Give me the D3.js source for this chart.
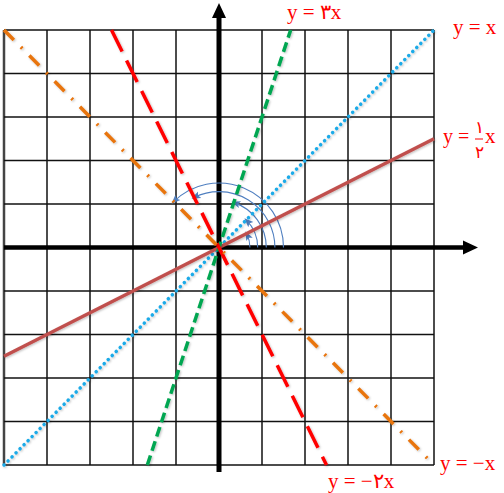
<!DOCTYPE html>
<html><head><meta charset="utf-8">
<script src="https://cdn.jsdelivr.net/npm/d3@7"></script>
<style>html,body{margin:0;padding:0;background:#fff;}svg{display:block;}</style>
</head><body>
<svg id="c" width="504" height="493"></svg>
<script>
// ---- data ----
const gridTicks = [-5,-4,-3,-2,-1,0,1,2,3,4,5];
const lineNames  = ["y = x", "y = ½x", "y = 3x", "y = -2x", "y = -x"];
const lineX0     = [-5, -5, -5/3, -2.5, -5];
const lineY0     = [-5, -2.5, -5, 5, 5];
const lineX1     = [5, 5, 5/3, 2.5, 5];
const lineY1     = [5, 2.5, 5, -5, -5];
const lineColors = ["#1aaae8", "#c0504d", "#00a651", "#ff0000", "#e8740c"];
const lineDash   = ["0.1,5.6", null, "10,5", "24,10", "14,10,2,10"];
const lineCaps   = ["round", "butt", "butt", "butt", "butt"];
const lineWidths = [3.5, 3.5, 3.5, 3.5, 3.5];
// angle arcs (radius in grid units, end angle in degrees)
const arcRadius  = [0.72, 0.9, 1.1, 1.3, 1.5];
const arcAngle   = [26.57, 45, 71.57, 116.57, 135];

const svg = d3.select("#c");
const x = d3.scaleLinear().domain([-5,5]).range([4,434]);
const y = d3.scaleLinear().domain([-5,5]).range([465,30]);

const defs = svg.append("defs");
defs.append("marker")
  .attr("id","arr").attr("viewBox","0 0 10 10").attr("refX",7).attr("refY",5)
  .attr("markerWidth",9).attr("markerHeight",9).attr("markerUnits","userSpaceOnUse")
  .attr("orient","auto")
  .append("path").attr("d","M0,1 L10,5 L0,9 L2,5 Z")
  .attr("fill","#4f7fc0");
const f = defs.append("filter").attr("id","sh").attr("x","-5%").attr("y","-5%").attr("width","110%").attr("height","110%");
f.append("feDropShadow").attr("dx",1).attr("dy",1).attr("stdDeviation",0.8)
  .attr("flood-color","#000").attr("flood-opacity",0.25);

// grid
const g = svg.append("g");
g.selectAll("line.v").data(gridTicks).join("line")
  .attr("x1",d=>x(d)).attr("x2",d=>x(d)).attr("y1",y(5)).attr("y2",y(-5))
  .attr("stroke",d=>d===-5?"#444":"#111").attr("stroke-width",d=>d===-5?2.5:1.5);
g.selectAll("line.h").data(gridTicks).join("line")
  .attr("y1",d=>y(d)).attr("y2",d=>y(d)).attr("x1",x(-5)).attr("x2",x(5))
  .attr("stroke","#111").attr("stroke-width",1.5);

// axes
svg.append("line").attr("x1",x(-5)).attr("x2",463).attr("y1",y(0)).attr("y2",y(0))
  .attr("stroke","#000").attr("stroke-width",4.5);
svg.append("path").attr("d",`M463,${y(0)-7} L478,${y(0)} L463,${y(0)+7} Z`).attr("fill","#000");
svg.append("line").attr("x1",x(0)).attr("x2",x(0)).attr("y1",472).attr("y2",17)
  .attr("stroke","#000").attr("stroke-width",5);
svg.append("path").attr("d",`M${x(0)-7},18 L${x(0)},3 L${x(0)+7},18 Z`).attr("fill","#000");

// angle arcs
const arcG = svg.append("g");
arcRadius.forEach((r,i)=>{
  const rp = x(r)-x(0);
  const a = arcAngle[i]*Math.PI/180;
  const ex = x(0)+rp*Math.cos(a), ey = y(0)-rp*Math.sin(a);
  arcG.append("path")
    .attr("d",`M${x(0)+rp},${y(0)} A${rp},${rp} 0 0 0 ${ex},${ey}`)
    .attr("fill","none").attr("stroke","#4f7fc0").attr("stroke-width",1.1)
    .attr("marker-end","url(#arr)");
});

// lines
const lg = svg.append("g");
lineNames.forEach((n,i)=>{
  lg.append("line")
    .attr("x1",x(lineX0[i])).attr("y1",y(lineY0[i]))
    .attr("x2",x(lineX1[i])).attr("y2",y(lineY1[i]))
    .attr("stroke",lineColors[i]).attr("stroke-width",lineWidths[i])
    .attr("stroke-dasharray",lineDash[i]).attr("stroke-linecap",lineCaps[i])
    .attr("filter","url(#sh)");
});

// labels
const font = "'Liberation Serif','Times New Roman',serif";
function lab(t, px, py, size, anchor){
  svg.append("text").attr("x",px).attr("y",py).text(t)
    .attr("font-family",font).attr("font-size",size||21).attr("fill","#ff0000")
    .attr("text-anchor",anchor||"start");
}
lab("y = ۳x", 287, 19);
lab("y = x", 453, 34);
lab("y = −x", 440, 470);
lab("y = −۲x", 328, 488);
lab("y =", 443, 143, 20);
lab("۱", 479, 133, 17, "middle");
svg.append("line").attr("x1",475).attr("x2",483).attr("y1",139).attr("y2",139)
  .attr("stroke","#ff0000").attr("stroke-width",1);
lab("۲", 479, 158, 17, "middle");
lab("x", 485, 143);
</script>
</body></html>
